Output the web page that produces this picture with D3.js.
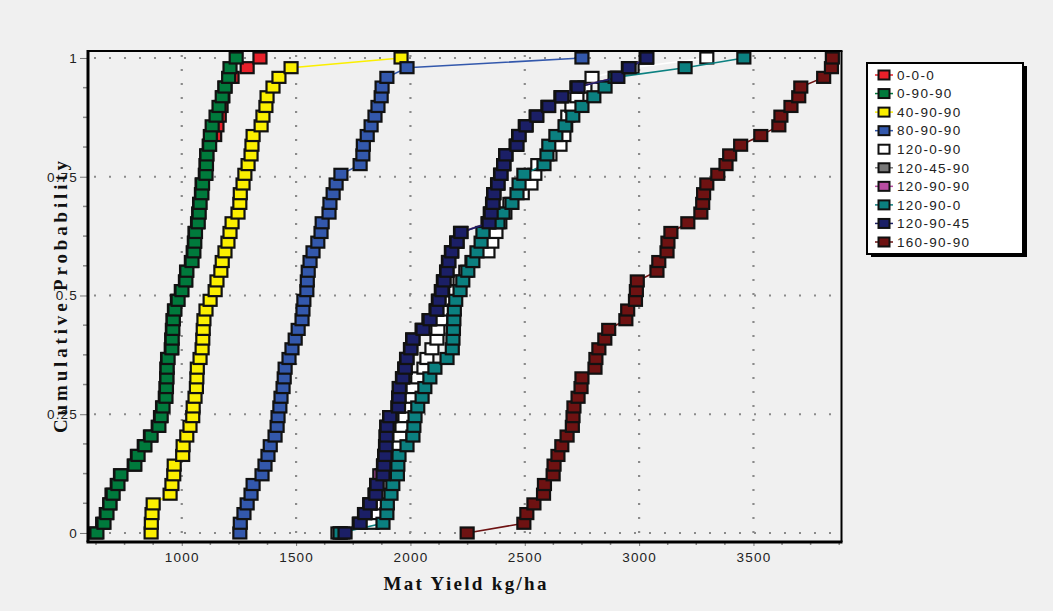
<!DOCTYPE html>
<html lang="en">
<head>
<meta charset="UTF-8">
<title>Mat Yield Cumulative Probability</title>
<script src="https://cdnjs.cloudflare.com/ajax/libs/d3/7.8.5/d3.min.js"></script>
<style>
    body {
        margin: 0;
        background-color: #f0f0f0;
    }
    svg { display: block; }
    .tick-label {
        font-family: Arial, "Liberation Sans", sans-serif;
        font-size: 13.5px;
        fill: #222;
        letter-spacing: 1.2px;
    }
    .axis-title {
        font-family: "Liberation Serif", "Times New Roman", serif;
        font-weight: bold;
        font-size: 19px;
        fill: #111;
    }
    .legend-label {
        font-family: Arial, "Liberation Sans", sans-serif;
        font-size: 13.5px;
        fill: #222;
        letter-spacing: 1.3px;
    }
</style>
</head>
<body>
<svg id="chart"></svg>
<script>
// Series names (legend order = drawing order)
const seriesNames = ["0-0-0", "0-90-90", "40-90-90", "80-90-90", "120-0-90",
    "120-45-90", "120-90-90", "120-90-0", "120-90-45", "160-90-90"];
const seriesColors = ["#e8202a", "#007a3c", "#fbef00", "#3358ac", "#ffffff",
    "#787878", "#b94da2", "#0b8080", "#1b1f66", "#6e1212"];

// Mat yield (kg/ha), sorted; 50 values per treatment
const yield000 = [624, 654, 670, 685, 695, 718, 732, 792, 806, 836, 863, 897, 907, 916, 928, 931, 934, 935, 938, 954,
    956, 959, 962, 968, 981, 998, 1016, 1021, 1042, 1050, 1055, 1058, 1069, 1074, 1078, 1086, 1089, 1103, 1106, 1109,
    1120, 1144, 1154, 1164, 1172, 1180, 1189, 1220, 1286, 1342];
const yield09090 = [629, 660, 673, 686, 700, 721, 734, 795, 809, 839, 866, 900, 910, 918, 931, 933, 935, 936, 940, 957,
    958, 961, 963, 970, 984, 1001, 1018, 1022, 1045, 1053, 1057, 1060, 1072, 1076, 1080, 1088, 1091, 1106, 1108, 1110,
    1122, 1125, 1133, 1150, 1163, 1177, 1189, 1205, 1211, 1238];
const yield409090 = [866, 867, 870, 875, 949, 957, 965, 967, 1004, 1006, 1022, 1036, 1048, 1050, 1058, 1064, 1066, 1068, 1080, 1089,
    1092, 1094, 1097, 1106, 1124, 1146, 1154, 1171, 1177, 1189, 1202, 1211, 1220, 1246, 1254, 1256, 1268, 1276, 1290, 1303,
    1307, 1312, 1347, 1355, 1368, 1373, 1399, 1425, 1478, 1959];
const yield809090 = [1254, 1256, 1272, 1286, 1303, 1312, 1351, 1364, 1377, 1387, 1408, 1417, 1421, 1429, 1434, 1443, 1448, 1452, 1469, 1482,
    1496, 1509, 1526, 1530, 1534, 1547, 1549, 1553, 1561, 1574, 1595, 1609, 1614, 1644, 1648, 1662, 1675, 1696, 1780, 1792,
    1794, 1811, 1828, 1845, 1858, 1872, 1876, 1897, 1985, 2750];
const yield120090 = [1683, 1832, 1858, 1876, 1893, 1906, 1919, 1927, 1937, 1946, 1954, 1963, 1976, 1990, 2002, 2011, 2032, 2059, 2072, 2094,
    2116, 2120, 2133, 2147, 2168, 2198, 2217, 2242, 2269, 2339, 2356, 2374, 2391, 2413, 2435, 2489, 2527, 2544, 2557, 2610,
    2654, 2671, 2679, 2688, 2706, 2728, 2763, 2794, 2969, 3296];
const yield1204590 = [1694, 1776, 1799, 1822, 1845, 1852, 1876, 1883, 1888, 1891, 1894, 1897, 1911, 1945, 1949, 1953, 1965, 1975, 1983, 2000,
    2010, 2051, 2081, 2112, 2122, 2135, 2144, 2158, 2166, 2179, 2202, 2219, 2339, 2349, 2359, 2364, 2381, 2394, 2408, 2417,
    2462, 2473, 2502, 2550, 2601, 2658, 2728, 2903, 2953, 3031];
const yield1209090 = [1704, 1778, 1800, 1823, 1847, 1853, 1866, 1882, 1887, 1892, 1894, 1897, 1909, 1947, 1949, 1951, 1966, 1976, 1984, 2001,
    2010, 2053, 2083, 2114, 2124, 2137, 2146, 2159, 2167, 2180, 2203, 2220, 2342, 2351, 2360, 2364, 2382, 2395, 2408, 2417,
    2464, 2474, 2505, 2551, 2603, 2660, 2730, 2905, 2954, 3032];
const yield120900 = [1692, 1880, 1897, 1899, 1915, 1923, 1943, 1945, 1950, 1985, 2011, 2015, 2020, 2032, 2051, 2063, 2085, 2107, 2160, 2183,
    2186, 2188, 2190, 2192, 2198, 2217, 2229, 2251, 2273, 2291, 2309, 2317, 2383, 2405, 2444, 2466, 2475, 2496, 2584, 2597,
    2605, 2636, 2676, 2710, 2750, 2802, 2851, 2895, 3201, 3458];
const yield1209045 = [1714, 1780, 1801, 1824, 1849, 1854, 1880, 1884, 1889, 1893, 1895, 1898, 1910, 1948, 1950, 1952, 1967, 1977, 1985, 2002,
    2011, 2055, 2086, 2116, 2125, 2138, 2147, 2160, 2168, 2181, 2204, 2221, 2344, 2353, 2361, 2365, 2383, 2396, 2408, 2417,
    2466, 2475, 2506, 2553, 2605, 2662, 2733, 2907, 2956, 3034];
const yield1609090 = [2248, 2496, 2509, 2540, 2582, 2586, 2624, 2628, 2645, 2662, 2685, 2708, 2711, 2715, 2733, 2746, 2750, 2807, 2811, 2824,
    2850, 2867, 2942, 2950, 2984, 2988, 2992, 3078, 3086, 3122, 3126, 3139, 3213, 3270, 3278, 3282, 3296, 3344, 3380, 3396,
    3444, 3532, 3611, 3620, 3664, 3698, 3707, 3807, 3841, 3845];

const seriesValues = [yield000, yield09090, yield409090, yield809090, yield120090,
    yield1204590, yield1209090, yield120900, yield1209045, yield1609090];

const xTickValues = [1000, 1500, 2000, 2500, 3000, 3500];
const yTickValues = [0, 0.25, 0.5, 0.75, 1];
const yTickLabels = ["0", "0.25", "0.5", "0.75", "1"];

// Layout
const width = 1053, height = 611;
const plotLeft = 88, plotRight = 841.5, plotTop = 51, plotBottom = 542;

const svg = d3.select("#chart").attr("width", width).attr("height", height);

const x = d3.scaleLinear().domain([590, 3885]).range([plotLeft, plotRight]);
const y = d3.scaleLinear().domain([-0.019, 1.0147]).range([plotBottom, plotTop]);

// Dotted grid
const grid = svg.append("g");
grid.selectAll(".vgrid")
    .data(xTickValues)
    .enter().append("line")
    .attr("x1", d => x(d)).attr("x2", d => x(d))
    .attr("y1", plotBottom - 9).attr("y2", plotTop)
    .attr("stroke", "#8a8a8a")
    .attr("stroke-width", 2.2)
    .attr("stroke-dasharray", "2,12");
grid.selectAll(".hgrid")
    .data(yTickValues)
    .enter().append("line")
    .attr("x1", plotLeft + 6).attr("x2", plotRight)
    .attr("y1", d => y(d)).attr("y2", d => y(d))
    .attr("stroke", "#8a8a8a")
    .attr("stroke-width", 2.2)
    .attr("stroke-dasharray", "2,13");

// Axes
const xAxis = d3.axisBottom(x)
    .tickValues(xTickValues)
    .tickSize(4)
    .tickPadding(6)
    .tickFormat(d3.format("d"));
const xAxisG = svg.append("g")
    .attr("transform", `translate(0,${plotBottom})`)
    .call(xAxis);
xAxisG.select(".domain").remove();
xAxisG.selectAll(".tick line").attr("stroke", "#777");
xAxisG.selectAll(".tick text").attr("class", "tick-label").attr("font-size", null).attr("font-family", null);

const yAxis = d3.axisLeft(y)
    .tickValues(yTickValues)
    .tickSize(8)
    .tickPadding(2)
    .tickFormat((d, i) => yTickLabels[i]);
const yAxisG = svg.append("g")
    .attr("transform", `translate(${plotLeft},0)`)
    .call(yAxis);
yAxisG.select(".domain").remove();
yAxisG.selectAll(".tick line").attr("stroke", "#777");
yAxisG.selectAll(".tick text").attr("class", "tick-label").attr("font-size", null).attr("font-family", null);

// Minor ticks
const xMinor = d3.range(625, 3885, 125).filter(v => !xTickValues.includes(v));
svg.append("g").selectAll("line")
    .data(xMinor)
    .enter().append("line")
    .attr("x1", d => x(d)).attr("x2", d => x(d))
    .attr("y1", plotBottom).attr("y2", plotBottom + 3)
    .attr("stroke", "#888").attr("stroke-width", 1.5);
const yMinor = d3.range(0.0625, 1, 0.0625).filter(v => v % 0.25 !== 0);
svg.append("g").selectAll("line")
    .data(yMinor)
    .enter().append("line")
    .attr("x1", plotLeft - 5).attr("x2", plotLeft)
    .attr("y1", d => y(d)).attr("y2", d => y(d))
    .attr("stroke", "#888").attr("stroke-width", 1.5);

// Series: line + square markers
const markerW = 13, markerH = 11;
const lineGen = d3.line()
    .x(d => x(d.value))
    .y(d => y(d.p));

seriesNames.forEach((name, s) => {
    const vals = seriesValues[s];
    const pts = vals.map((v, i) => ({ value: v, p: i / (vals.length - 1) }));
    const g = svg.append("g").attr("class", "series");
    g.append("path")
        .datum(pts)
        .attr("d", lineGen)
        .attr("fill", "none")
        .attr("stroke", seriesColors[s])
        .attr("stroke-width", 1.6);
    g.selectAll("rect")
        .data(pts)
        .enter().append("rect")
        .attr("x", d => x(d.value) - markerW / 2)
        .attr("y", d => y(d.p) - markerH / 2)
        .attr("width", markerW)
        .attr("height", markerH)
        .attr("fill", seriesColors[s])
        .attr("stroke", "#111")
        .attr("stroke-width", 2.2);
});

// Frame
const frame = svg.append("g").attr("stroke", "#000");
frame.append("line").attr("x1", plotLeft).attr("x2", plotRight + 1).attr("y1", plotTop).attr("y2", plotTop).attr("stroke-width", 2);
frame.append("line").attr("x1", plotRight).attr("x2", plotRight).attr("y1", plotTop).attr("y2", plotBottom).attr("stroke-width", 2);
frame.append("line").attr("x1", plotLeft - 1.5).attr("x2", plotRight + 1).attr("y1", plotBottom).attr("y2", plotBottom).attr("stroke-width", 3);
frame.append("line").attr("x1", plotLeft).attr("x2", plotLeft).attr("y1", plotTop - 1).attr("y2", plotBottom).attr("stroke-width", 3);

// Axis titles
svg.append("text")
    .attr("class", "axis-title")
    .attr("x", 465).attr("y", 590)
    .attr("text-anchor", "middle")
    .attr("textLength", 163)
    .attr("lengthAdjust", "spacing")
    .text("Mat Yield kg/ha");
svg.append("text")
    .attr("class", "axis-title")
    .attr("transform", "translate(67,297) rotate(-90)")
    .attr("text-anchor", "middle")
    .attr("textLength", 272)
    .attr("lengthAdjust", "spacing")
    .text("Cumulative Probability");

// Legend
const legendX = 867, legendY = 63, legendW = 156, legendH = 191;
const legend = svg.append("g");
legend.append("rect")
    .attr("x", legendX + 4).attr("y", legendY + 3)
    .attr("width", legendW).attr("height", legendH)
    .attr("fill", "#000");
legend.append("rect")
    .attr("x", legendX).attr("y", legendY)
    .attr("width", legendW).attr("height", legendH)
    .attr("fill", "#fff")
    .attr("stroke", "#000")
    .attr("stroke-width", 2);

const legendRow = d3.scaleLinear().domain([0, seriesNames.length - 1]).range([legendY + 12, legendY + 179]);
const items = legend.selectAll(".item")
    .data(seriesNames)
    .enter().append("g")
    .attr("transform", (d, i) => `translate(${legendX + 17},${legendRow(i)})`);
items.append("line")
    .attr("x1", -9).attr("x2", 9)
    .attr("stroke", (d, i) => seriesColors[i])
    .attr("stroke-width", 1.5);
items.append("rect")
    .attr("x", -5.5).attr("y", -4.5)
    .attr("width", 11).attr("height", 9)
    .attr("fill", (d, i) => seriesColors[i])
    .attr("stroke", "#111")
    .attr("stroke-width", 2);
items.append("text")
    .attr("class", "legend-label")
    .attr("x", 13)
    .attr("dy", "0.35em")
    .text(d => d);
</script>
</body>
</html>
